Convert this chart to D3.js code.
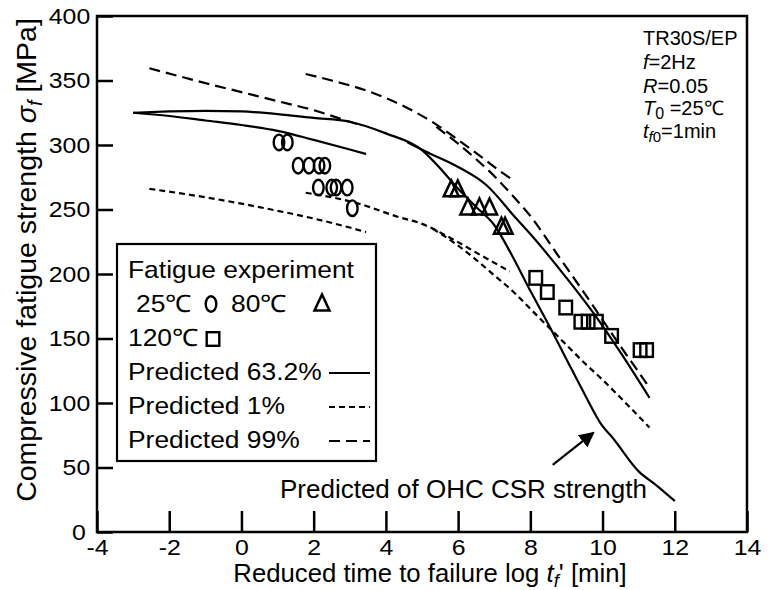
<!DOCTYPE html>
<html>
<head>
<meta charset="utf-8">
<script src="https://cdn.jsdelivr.net/npm/d3@7"></script>
<style>
  body { margin: 0; background: #fff; }
  text { font-family: "Liberation Sans", Arial, sans-serif; fill: #000; }
</style>
</head>
<body>
<svg width="775" height="590"></svg>
<script>
// axis ticks
var xTicks = [-4, -2, 0, 2, 4, 6, 8, 10, 12, 14];
var yTicks = [0, 50, 100, 150, 200, 250, 300, 350, 400];

// fatigue experiment points [log t'f, sigma_f]
var exp25 = [[1.04, 302], [1.27, 302], [1.57, 284], [1.87, 284], [2.15, 284], [2.31, 284],
             [2.13, 267], [2.5, 267], [2.62, 267], [2.93, 267], [3.07, 251]];
var exp80 = [[5.81, 266], [5.99, 266], [6.27, 252], [6.59, 252], [6.87, 252], [7.2, 237], [7.3, 237]];
var exp120 = [[8.15, 197], [8.47, 186], [8.98, 174], [9.4, 163], [9.6, 163], [9.83, 163],
              [10.25, 152], [11.04, 141], [11.22, 141]];

// predicted curves
var pred25_632 = [[-3, 325], [-2, 322.5], [-1, 319], [0, 315.5], [1, 311], [2, 304], [3, 296.5], [3.45, 293]];
var pred25_1 = [[-2.55, 266], [-1, 259.5], [0, 254.5], [1, 249], [2, 243], [3, 236], [3.45, 232.5]];
var pred25_99 = [[-2.55, 359.5], [-1, 348], [0, 341], [1, 334], [2, 327], [3, 318], [3.35, 315]];
var pred80_1 = [[1.78, 263], [3.26, 254.5], [4.37, 244], [4.92, 239.7], [5.85, 227], [6.6, 215], [7.43, 202]];
var pred80_99 = [[1.78, 355], [2.5, 350], [3.54, 341.4], [4.5, 330], [5.39, 316], [6, 304], [6.68, 290], [7.1, 281], [7.56, 272]];
var pred120_632 = [[4.6, 302], [5.1, 295], [6, 283], [6.78, 269], [7.61, 243], [8, 231], [9, 197], [9.74, 170], [10.5, 139], [11.3, 104]];
var pred120_1 = [[5.3, 235], [6, 222], [6.5, 211], [7, 199], [7.5, 187], [8, 173], [8.5, 159], [9, 145], [9.5, 131], [10, 118], [10.5, 104], [11.3, 81]];
var pred120_99 = [[5.4, 314], [6, 301], [6.5, 289], [7, 276], [7.5, 261], [8, 245], [8.8, 213], [9.5, 185], [10.3, 152], [11.3, 112]];
var ohcCsr = [[-3, 325], [-2, 326], [-1, 326.5], [0, 326], [1, 324], [2, 321], [3, 318], [4, 309], [5, 296],
              [5.5, 282], [6, 266], [6.5, 252], [7, 238], [7.5, 214], [8, 187], [8.5, 161], [9, 134],
              [9.5, 107], [10, 82], [10.25, 74], [11, 47], [11.5, 36], [12, 24]];

// arrow pointing at the OHC curve
var arrowFrom = [8.62, 52];
var arrowTo = [9.75, 77];

var legendRows = ["Fatigue experiment", "Predicted 63.2%", "Predicted 1%", "Predicted 99%"];

var svg = d3.select("svg"),
    W = +svg.attr("width"), H = +svg.attr("height"),
    margin = {top: 16, right: 28, bottom: 58, left: 97};

var x = d3.scaleLinear().domain([-4, 14]).range([margin.left, W - margin.right]),
    y = d3.scaleLinear().domain([0, 400]).range([H - margin.bottom, margin.top]);

var line = d3.line()
    .curve(d3.curveMonotoneX)
    .x(function(d) { return x(d[0]); })
    .y(function(d) { return y(d[1]); });

var SOLID = null, DASH1 = "6,4", DASH99 = "11,6";

// text placed at (tx,ty) and stretched horizontally by sx
function label(parent, tx, ty, size, sx) {
  return parent.append("text")
      .attr("transform", "translate(" + tx + "," + ty + ") scale(" + sx + ",1)")
      .style("font-size", size + "px");
}

// axes (ticks pointing inward)
var gx = svg.append("g")
    .attr("transform", "translate(0," + (H - margin.bottom) + ")")
    .call(d3.axisBottom(x).tickValues(xTicks).tickSize(-21).tickPadding(7).tickFormat(d3.format("d")));
var gy = svg.append("g")
    .attr("transform", "translate(" + margin.left + ",0)")
    .call(d3.axisLeft(y).tickValues(yTicks).tickSize(-16).tickPadding(6).tickFormat(d3.format("d")));
[gx, gy].forEach(function(g) {
  g.select(".domain").remove();
  g.selectAll("line").attr("stroke", "#000").attr("stroke-width", 2.5);
  g.selectAll("text").style("font-size", "22px").attr("fill", "#000")
    .attr("transform", "scale(1.13,1)");
});
gx.selectAll("text").text(function(d) { return d < 0 ? "-" + Math.abs(d) : d; });
gy.selectAll("text").filter(function(d) { return d === 0; }).attr("dx", -4);

// frame
svg.append("rect")
    .attr("x", x(-4)).attr("y", y(400))
    .attr("width", x(14) - x(-4)).attr("height", y(0) - y(400))
    .attr("fill", "none").attr("stroke", "#000").attr("stroke-width", 2.5);

// curves
var curves = [
  {d: pred25_632, dash: SOLID}, {d: pred25_1, dash: DASH1}, {d: pred25_99, dash: DASH99},
  {d: pred80_1, dash: DASH1}, {d: pred80_99, dash: DASH99},
  {d: pred120_632, dash: SOLID}, {d: pred120_1, dash: DASH1}, {d: pred120_99, dash: DASH99},
  {d: ohcCsr, dash: SOLID}
];
svg.append("g").selectAll("path")
    .data(curves)
  .enter().append("path")
    .attr("d", function(c) { return line(c.d); })
    .attr("fill", "none")
    .attr("stroke", "#000")
    .attr("stroke-width", 2.2)
    .attr("stroke-dasharray", function(c) { return c.dash; });

// markers
function circleMark(g) {
  g.append("ellipse").attr("rx", 5.3).attr("ry", 7.8)
    .attr("fill", "none").attr("stroke", "#000").attr("stroke-width", 2.4);
}
function triMark(g) {
  g.append("path").attr("d", "M0,-8.5L7.5,7.5L-7.5,7.5Z")
    .attr("fill", "none").attr("stroke", "#000").attr("stroke-width", 2.5);
}
function sqMark(g) {
  g.append("rect").attr("x", -6.3).attr("y", -6.8).attr("width", 12.6).attr("height", 13.6)
    .attr("fill", "none").attr("stroke", "#000").attr("stroke-width", 2.4);
}
function plotPoints(data, mark) {
  svg.append("g").selectAll("g")
      .data(data)
    .enter().append("g")
      .attr("transform", function(d) { return "translate(" + x(d[0]) + "," + y(d[1]) + ")"; })
      .each(function() { mark(d3.select(this)); });
}
plotPoints(exp25, circleMark);
plotPoints(exp80, triMark);
plotPoints(exp120, sqMark);

// arrow + annotation
svg.append("defs").append("marker")
    .attr("id", "ah").attr("viewBox", "0 0 10 10").attr("refX", 9).attr("refY", 5)
    .attr("markerWidth", 7).attr("markerHeight", 7).attr("orient", "auto")
  .append("path").attr("d", "M0,0L10,5L0,10Z").attr("fill", "#000");
svg.append("line")
    .attr("x1", x(arrowFrom[0])).attr("y1", y(arrowFrom[1]))
    .attr("x2", x(arrowTo[0])).attr("y2", y(arrowTo[1]))
    .attr("stroke", "#000").attr("stroke-width", 2.2).attr("marker-end", "url(#ah)");
label(svg, 280, 498, 25, 1.04).text("Predicted of OHC CSR strength");

// conditions text (top right)
var sxInfo = 1.0, fsInfo = 20;
label(svg, 643, 45, fsInfo, sxInfo).text("TR30S/EP");
var t2 = label(svg, 643, 69, fsInfo, sxInfo);
t2.append("tspan").style("font-style", "italic").text("f");
t2.append("tspan").text("=2Hz");
var t3 = label(svg, 643, 93, fsInfo, sxInfo);
t3.append("tspan").style("font-style", "italic").text("R");
t3.append("tspan").text("=0.05");
var t4 = label(svg, 643, 115, fsInfo, sxInfo);
t4.append("tspan").style("font-style", "italic").text("T");
t4.append("tspan").attr("dy", 4).style("font-size", "16px").text("0");
t4.append("tspan").attr("dy", -4).text(" =25\u2103");
var t5 = label(svg, 643, 138, fsInfo, sxInfo);
t5.append("tspan").style("font-style", "italic").text("t");
t5.append("tspan").attr("dy", 4).style("font-size", "15px").style("font-style", "italic").text("f");
t5.append("tspan").style("font-size", "15px").text("0");
t5.append("tspan").attr("dy", -4).text("=1min");

// axis titles
var xt = label(svg, 430, 582, 25, 1.03).attr("text-anchor", "middle");
xt.append("tspan").text("Reduced time to failure log ");
xt.append("tspan").style("font-style", "italic").text("t");
xt.append("tspan").attr("dy", 5).style("font-size", "18px").style("font-style", "italic").text("f");
xt.append("tspan").attr("dy", -5).text("' [min]");

var yt = svg.append("text").attr("transform", "translate(36,260) rotate(-90)")
    .attr("text-anchor", "middle").style("font-size", "28.5px");
yt.append("tspan").text("Compressive fatigue strength ");
yt.append("tspan").style("font-style", "italic").text("\u03c3");
yt.append("tspan").attr("dy", 6).style("font-size", "20px").style("font-style", "italic").text("f");
yt.append("tspan").attr("dy", -6).text("  [MPa]");

// legend
var lg = svg.append("g");
lg.append("rect").attr("x", 117).attr("y", 244).attr("width", 259).attr("height", 217)
    .attr("fill", "#fff").attr("stroke", "#000").attr("stroke-width", 2.2);
var sxL = 1.1;
label(lg, 128, 278, 24, sxL).text(legendRows[0]);
label(lg, 136, 312, 24, sxL).text("25\u2103");
lg.append("g").attr("transform", "translate(211,304)").call(circleMark);
label(lg, 231, 312, 24, sxL).text("80\u2103");
lg.append("g").attr("transform", "translate(322,303)").call(triMark);
label(lg, 128, 346, 24, sxL).text("120\u2103");
lg.append("g").attr("transform", "translate(213,339)").call(sqMark);
var dashes = [SOLID, DASH1, DASH99];
[1, 2, 3].forEach(function(i) {
  var by = 346 + 34 * i;
  label(lg, 128, by, 24, sxL).text(legendRows[i]);
  lg.append("line").attr("x1", 329).attr("x2", 370).attr("y1", by - 7).attr("y2", by - 7)
    .attr("stroke", "#000").attr("stroke-width", 2.2)
    .attr("stroke-dasharray", dashes[i - 1]);
});
</script>
</body>
</html>
